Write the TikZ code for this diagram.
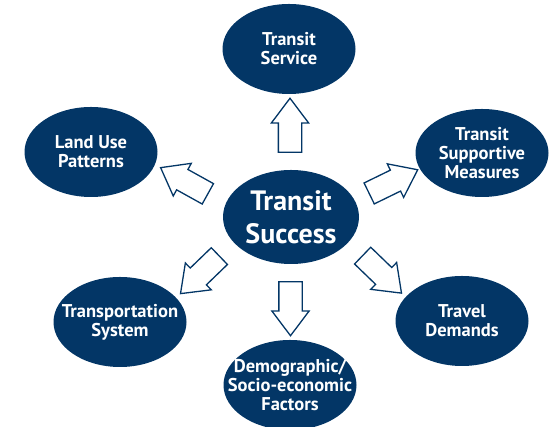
\documentclass[tikz,border=0pt]{standalone}
\usepackage{fontspec}
\setmainfont{PT Sans}
\usetikzlibrary{shapes.geometric, shapes.arrows, calc}
\definecolor{navy}{RGB}{3,54,102}
\tikzset{
	bubble/.style={ellipse, fill=navy, text=white, minimum width=133pt, minimum height=90pt,
		inner xsep=-22pt, inner ysep=-12pt, align=center,
		font=\bfseries\fontsize{18.5}{19}\selectfont},
	fatarrow/.style={single arrow, draw=navy, fill=white, line width=1.3pt,
		minimum height=54pt, inner xsep=0pt, inner ysep=11pt, text height=0pt, text depth=0pt,
		single arrow head extend=7pt, single arrow head indent=0pt, single arrow tip angle=74}
}
\begin{document}
\begin{tikzpicture}[x=1pt,y=1pt]
	\useasboundingbox (0,0) rectangle (550,427);
	\node[bubble, minimum width=136pt, minimum height=94pt,
		font=\bfseries\fontsize{28}{33}\selectfont] (succ) at (291,210) {Transit\\Success};
	\node[bubble] (service) at (289,378) {Transit\\Service};
	\node[bubble] (landuse) at (91,275) {Land Use\\Patterns};
	\node[bubble, minimum height=88pt] (supportive) at (482,274) {Transit\\Supportive\\Measures};
	\node[bubble] (transport) at (120,105) {Transportation\\System};
	\node[bubble] (demand) at (462,106) {Travel\\Demands};
	\node[bubble] (demog) at (290,42) {Demographic/\\Socio-economic\\Factors};
	% arrows
	\node[fatarrow, rotate=90] (a-service) at ($(succ)!.5!(service)$) {};
	\node[fatarrow, rotate=151] (a-landuse) at ($(succ)!.5!(landuse)$) {};
	\node[fatarrow, rotate=26] (a-supportive) at ($(succ)!.5!(supportive)$) {};
	\node[fatarrow, rotate=224] (a-transport) at ($(succ)!.5!(transport)$) {};
	\node[fatarrow, rotate=-44] (a-demand) at ($(succ)!.5!(demand)$) {};
	\node[fatarrow, rotate=-90] (a-demog) at ($(succ)!.5!(demog)$) {};
\end{tikzpicture}
\end{document}
